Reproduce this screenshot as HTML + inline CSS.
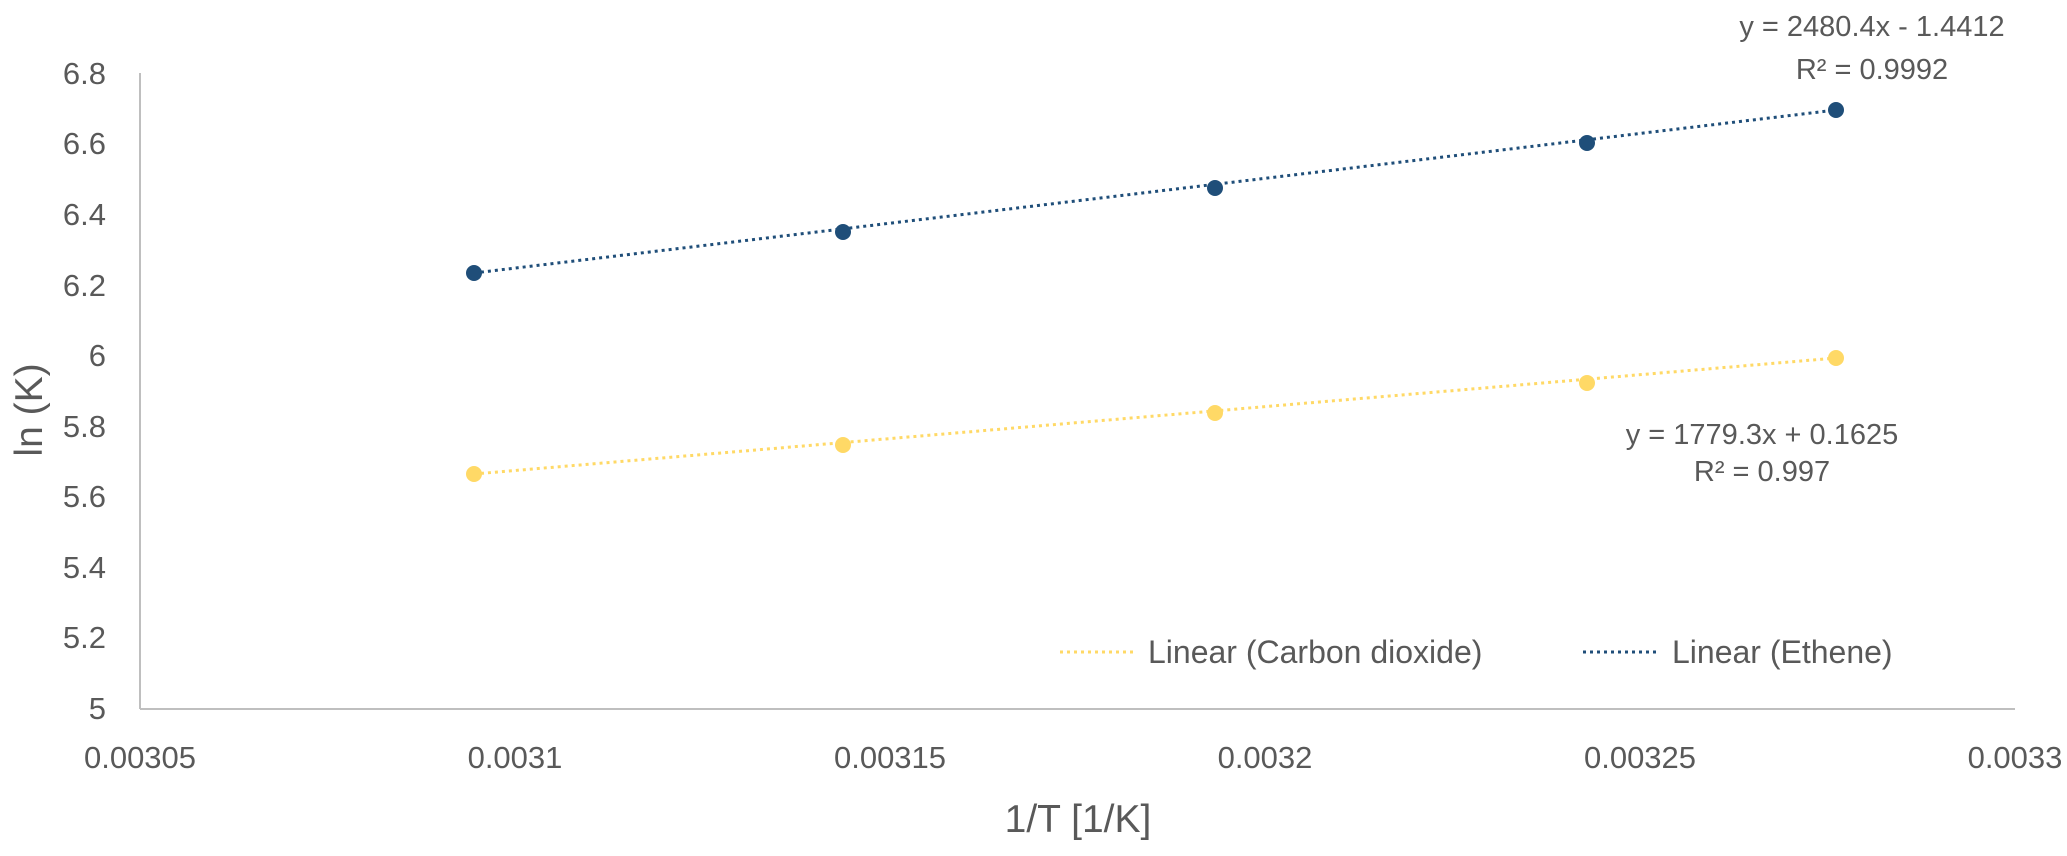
<!DOCTYPE html>
<html><head><meta charset="utf-8"><style>
body{margin:0;background:#fff}
svg text{font-family:"Liberation Sans",sans-serif;fill:#595959}
</style></head><body>
<svg width="2067" height="851" xmlns="http://www.w3.org/2000/svg">
<line x1="140" y1="73" x2="140" y2="709" stroke="#bfbfbf" stroke-width="2"/>
<line x1="140" y1="709" x2="2015" y2="709" stroke="#bfbfbf" stroke-width="2"/>
<g font-size="31" text-anchor="end">
<text x="106" y="84">6.8</text>
<text x="106" y="154">6.6</text>
<text x="106" y="225">6.4</text>
<text x="106" y="296">6.2</text>
<text x="106" y="366">6</text>
<text x="106" y="437">5.8</text>
<text x="106" y="507">5.6</text>
<text x="106" y="578">5.4</text>
<text x="106" y="648">5.2</text>
<text x="106" y="719">5</text>
</g>
<g font-size="31" text-anchor="middle">
<text x="140" y="768">0.00305</text>
<text x="515" y="768">0.0031</text>
<text x="890" y="768">0.00315</text>
<text x="1265" y="768">0.0032</text>
<text x="1640" y="768">0.00325</text>
<text x="2015" y="768">0.0033</text>
<text x="1078" y="832" font-size="39">1/T [1/K]</text>
<text transform="translate(42,410) rotate(-90)" font-size="39">ln (K)</text>
</g>
<line x1="474" y1="273" x2="1836" y2="110" stroke="#1f4e79" stroke-width="3" stroke-dasharray="3,4"/>
<line x1="474" y1="474" x2="1836" y2="358" stroke="#ffd966" stroke-width="3" stroke-dasharray="3,4"/>
<g fill="#1f4e79">
<circle cx="474" cy="273" r="8"/><circle cx="843" cy="232" r="8"/><circle cx="1215" cy="188" r="8"/><circle cx="1587" cy="143" r="8"/><circle cx="1836" cy="110" r="8"/>
</g>
<g fill="#ffd966">
<circle cx="474" cy="474" r="8"/><circle cx="843" cy="445" r="8"/><circle cx="1215" cy="413" r="8"/><circle cx="1587" cy="383" r="8"/><circle cx="1836" cy="358" r="8"/>
</g>
<g font-size="29" text-anchor="middle">
<text x="1872" y="36">y = 2480.4x - 1.4412</text>
<text x="1872" y="79">R² = 0.9992</text>
<text x="1762" y="444">y = 1779.3x + 0.1625</text>
<text x="1762" y="481">R² = 0.997</text>
</g>
<line x1="1060" y1="652" x2="1134" y2="652" stroke="#ffd966" stroke-width="3" stroke-dasharray="3,4"/>
<text x="1148" y="663" font-size="32">Linear (Carbon dioxide)</text>
<line x1="1583" y1="652" x2="1656" y2="652" stroke="#1f4e79" stroke-width="3" stroke-dasharray="3,4"/>
<text x="1672" y="663" font-size="32">Linear (Ethene)</text>
</svg>
</body></html>
